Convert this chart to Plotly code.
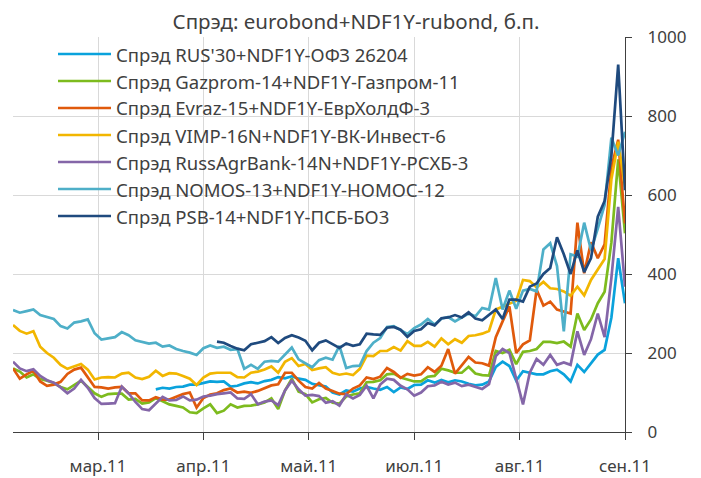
import pandas as pd
import plotly.graph_objects as go

# ---- data ----
dates = pd.date_range("2011-03-05", "2011-09-01", freq="2D")  # 91 observation dates

tick_dates = ["2011-03-30", "2011-04-30", "2011-05-31", "2011-07-01", "2011-08-01", "2011-09-01"]
tick_labels = ["мар.11", "апр.11", "май.11", "июл.11", "авг.11", "сен.11"]

names = [
    "Спрэд RUS'30+NDF1Y-ОФЗ 26204",
    "Спрэд Gazprom-14+NDF1Y-Газпром-11",
    "Спрэд Evraz-15+NDF1Y-ЕврХолдФ-3",
    "Спрэд VIMP-16N+NDF1Y-ВК-Инвест-6",
    "Спрэд RussAgrBank-14N+NDF1Y-РСХБ-3",
    "Спрэд NOMOS-13+NDF1Y-НОМОС-12",
    "Спрэд PSB-14+NDF1Y-ПСБ-БО3",
]
colors = ["#0AA2DC", "#7DBB1E", "#E05A0C", "#F2B600", "#8466A8", "#4EAFC8", "#1F4A7E"]

rus30 = [None] * 21 + [
    108, 112, 110, 114, 115, 120, 120, 125, 128,
    127, 128, 115, 117, 123, 126, 123, 129, 132, 139,
    136, 141, 135, 132, 122, 118, 115, 100, 95, 105,
    102, 110, 114, 110, 107, 114, 101, 113, 109, 119,
    120, 131, 125, 132, 126, 131, 128, 122, 118, 120,
    128, 165, 178, 167, 130, 154, 150, 146, 146, 154,
    158, 146, 128, 170, 152, 175, 196, 208, 290, 440, 326]

gazprom = [
    161, 153, 138, 146, 134, 130, 124, 114, 108, 120,
    130, 114, 98, 89, 96, 97, 97, 82, 84, 72,
    75, 86, 78, 70, 66, 62, 50, 48, 60, 70,
    48, 54, 70, 62, 66, 67, 70, 75, 85, 58,
    105, 135, 102, 96, 75, 83, 86, 74, 72, 90,
    95, 98, 126, 127, 131, 146, 148, 138, 133, 128,
    128, 140, 142, 160, 156, 150, 150, 165, 148, 144,
    143, 205, 200, 208, 172, 203, 205, 210, 228, 228,
    225, 229, 216, 300, 258, 285, 326, 355, 480, 690, 503]

evraz = [
    161, 135, 146, 155, 128, 117, 120, 127, 147, 158,
    163, 140, 114, 113, 110, 113, 114, 98, 98, 80,
    80, 88, 82, 82, 90, 96, 100, 62, 86, 95,
    98, 106, 110, 100, 102, 99, 104, 111, 118, 121,
    150, 150, 130, 114, 110, 124, 110, 104, 97, 96,
    110, 118, 138, 134, 140, 162, 152, 137, 147, 143,
    146, 164, 152, 168, 210, 148, 168, 190, 176, 174,
    168, 240, 280, 318, 200, 222, 232, 360, 320, 330,
    310, 305, 300, 530, 402, 480, 440, 475, 670, 740, 528]

vimp = [
    271, 256, 249, 255, 216, 200, 188, 170, 160, 166,
    172, 158, 133, 138, 139, 138, 148, 150, 138, 134,
    140, 155, 142, 149, 148, 142, 135, 119, 138, 148,
    150, 150, 150, 139, 138, 150, 153, 158, 166, 150,
    178, 187, 167, 172, 157, 161, 164, 150, 145, 148,
    144, 160, 193, 192, 205, 205, 215, 206, 230, 218,
    218, 228, 216, 237, 222, 235, 226, 243, 245, 249,
    256, 310, 318, 326, 332, 385, 382, 366, 380, 364,
    362, 356, 345, 368, 346, 385, 412, 438, 640, 735, 621]

russagr = [
    178, 161, 154, 159, 142, 131, 125, 113, 98, 110,
    132, 112, 86, 71, 72, 73, 115, 98, 76, 58,
    55, 72, 89, 80, 81, 90, 80, 82, 90, 92,
    96, 98, 100, 85, 84, 96, 70, 77, 80, 68,
    105, 130, 108, 92, 94, 91, 74, 78, 67, 95,
    85, 94, 117, 85, 120, 135, 132, 117, 108, 92,
    100, 116, 118, 127, 120, 125, 116, 120, 115, 109,
    121, 192, 210, 200, 135, 70, 150, 185, 170, 195,
    170, 176, 170, 255, 195, 235, 300, 240, 390, 570, 368]

nomos = [
    309, 302, 306, 310, 296, 290, 286, 268, 262, 277,
    280, 285, 250, 234, 237, 240, 253, 245, 232, 227,
    224, 226, 216, 219, 210, 205, 201, 195, 212, 219,
    213, 216, 208, 210, 160, 170, 160, 178, 180, 178,
    195, 214, 184, 174, 164, 182, 188, 183, 218, 162,
    167, 168, 205, 226, 238, 266, 268, 258, 248, 263,
    272, 286, 272, 287, 291, 280, 291, 300, 293, 314,
    310, 390, 310, 358, 312, 358, 362, 356, 462, 478,
    420, 255, 450, 444, 530, 460, 515, 575, 745, 700, 760]

psb = [None] * 30 + [
    229, 226, 218, 211, 207, 222, 226, 230, 240, 225,
    238, 245, 239, 231, 207, 226, 232, 222, 213, 224,
    218, 222, 249, 247, 246, 264, 266, 259, 241, 256,
    260, 276, 270, 288, 290, 296, 290, 303, 287, 283,
    296, 310, 286, 335, 335, 330, 368, 376, 400, 415,
    493, 450, 400, 460, 405, 440, 545, 585, 700, 930, 612]

series = [rus30, gazprom, evraz, vimp, russagr, nomos, psb]

# ---- figure ----
FONT = "Noto Sans"
TXT = "#404040"
W, H = 701, 478
OFF = 8                       # page body margin of the html page
PL, PR, PT, PB = 13, 625, 37, 432   # plot box as seen in the window
ML, MT = PL - OFF, PT - OFF
MR, MB = W - (PR - OFF), H - (PB - OFF)
plot_w, plot_h = PR - PL, PB - PT

fig = go.Figure()
for name, col, vals in zip(names, colors, series):
    fig.add_trace(go.Scatter(x=dates, y=vals, name=name, mode="lines",
                             line=dict(color=col, width=2.7), connectgaps=False))

# manual legend (line sample + text), transparent like the original
shapes, annos = [], []
for i, (name, col) in enumerate(zip(names, colors)):
    ypx = 54 + 27 * i
    yp = (PB - ypx) / plot_h
    shapes.append(dict(type="line", xref="paper", yref="paper",
                       x0=(58 - PL) / plot_w, x1=(111 - PL) / plot_w, y0=yp, y1=yp,
                       line=dict(color=col, width=2.7)))
    annos.append(dict(xref="paper", yref="paper", x=(114 - PL) / plot_w, y=yp,
                      xanchor="left", yanchor="middle", showarrow=False, text=name,
                      font=dict(family=FONT, size=18.5, color=TXT)))

fig.update_layout(
    width=W, height=H,
    margin=dict(l=ML, r=MR, t=MT, b=MB, pad=0),
    paper_bgcolor="white", plot_bgcolor="white",
    showlegend=False,
    font=dict(family=FONT, color=TXT),
    title=dict(text="Спрэд: eurobond+NDF1Y-rubond, б.п.", x=(356 - OFF) / W, xanchor="center",
               y=1 - (22 - OFF) / H, yanchor="middle", yref="container",
               font=dict(family=FONT, size=20.5, color=TXT)),
    shapes=shapes, annotations=annos,
)
fig.update_xaxes(type="date", range=[dates[0], dates[-1]], automargin=False,
                 tickmode="array", tickvals=tick_dates, ticktext=tick_labels,
                 showgrid=True, gridcolor="#d9d9d9", gridwidth=1,
                 showline=True, linecolor="#404040", linewidth=1.3,
                 ticks="outside", ticklen=7, tickcolor="#404040",
                 tickfont=dict(family=FONT, size=17, color=TXT),
                 ticklabelstandoff=11, zeroline=False)
fig.update_yaxes(side="right", range=[0, 1000], automargin=False, tickmode="array",
                 tickvals=[0, 200, 400, 600, 800, 1000],
                 showgrid=True, gridcolor="#d9d9d9", gridwidth=1,
                 showline=True, linecolor="#404040", linewidth=1.3,
                 ticks="outside", ticklen=6, tickcolor="#404040",
                 tickfont=dict(family=FONT, size=17, color=TXT),
                 ticklabelstandoff=12, zeroline=False)

fig.write_html("out.html")
